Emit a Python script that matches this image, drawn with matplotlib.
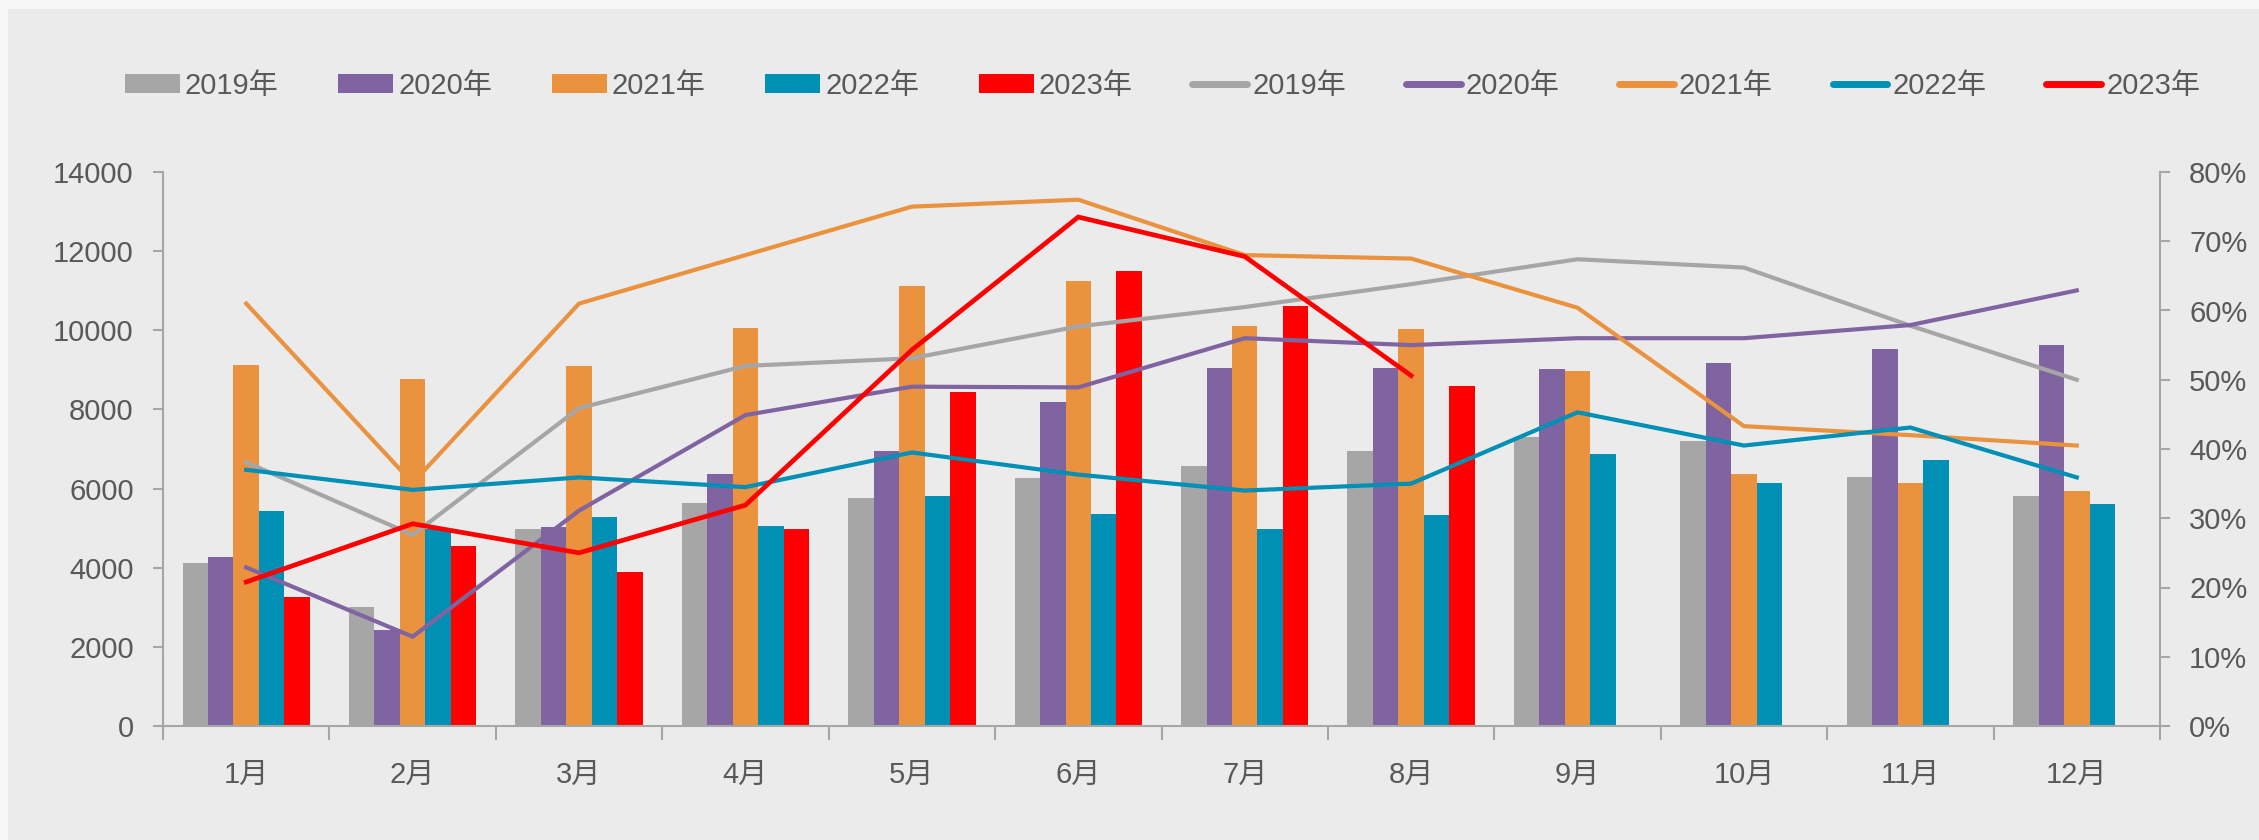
import numpy as np
import matplotlib
matplotlib.use('Agg')
import matplotlib.pyplot as plt
from matplotlib.patches import Rectangle
from matplotlib.ticker import FuncFormatter

plt.rcParams['font.family'] = ['Liberation Sans', 'Noto Sans CJK SC']

# data
months = ['1月', '2月', '3月', '4月', '5月', '6月', '7月', '8月', '9月', '10月', '11月', '12月']
years = ['2019年', '2020年', '2021年', '2022年', '2023年']

vol_2019 = [4130, 3000, 4980, 5630, 5770, 6260, 6570, 6940, 7310, 7190, 6290, 5815]
vol_2020 = [4280, 2420, 5040, 6380, 6960, 8190, 9040, 9050, 9010, 9170, 9520, 9630]
vol_2021 = [9120, 8780, 9100, 10060, 11130, 11250, 10110, 10040, 8970, 6360, 6140, 5950]
vol_2022 = [5440, 4980, 5270, 5060, 5810, 5350, 4980, 5320, 6880, 6140, 6720, 5620]
vol_2023 = [3260, 4560, 3890, 4980, 8430, 11490, 10610, 8580]

pct_2019 = [38.1, 27.6, 45.9, 52.0, 53.1, 57.7, 60.5, 63.8, 67.4, 66.2, 57.8, 50.0]
pct_2020 = [22.9, 12.9, 31.1, 44.9, 49.0, 48.9, 56.0, 55.0, 56.0, 56.0, 57.9, 62.9]
pct_2021 = [61.0, 35.1, 61.0, 68.0, 75.0, 76.0, 68.0, 67.5, 60.4, 43.3, 42.0, 40.5]
pct_2022 = [37.0, 34.1, 35.9, 34.5, 39.5, 36.3, 34.0, 35.0, 45.3, 40.5, 43.1, 35.9]
pct_2023 = [20.8, 29.2, 25.0, 31.9, 54.3, 73.5, 67.8, 50.6]

colors = ['#A6A6A6', '#8064A2', '#EA923E', '#008FB5', '#FF0000']
text_c = '#595959'
axis_c = '#A6A6A6'

vols = [vol_2019, vol_2020, vol_2021, vol_2022, vol_2023]
pcts = [pct_2019, pct_2020, pct_2021, pct_2022, pct_2023]

fig = plt.figure(figsize=(22.59, 8.4), dpi=100, facecolor='#F7F7F7')
fig.patches.append(Rectangle((8 / 2259, 0), 1, 1 - 9 / 840, transform=fig.transFigure,
                             facecolor='#EBEBEB', edgecolor='none', zorder=-1))

ax1 = fig.add_axes([163 / 2259, 1 - 726 / 840, (2160 - 163) / 2259, (726 - 172) / 840])
ax1.set_facecolor('none')
ax2 = ax1.twinx()

x = np.arange(len(months))
w = 0.153
bar_handles = []
for i, (vals, c, lab) in enumerate(zip(vols, colors, years)):
    xi = np.arange(len(vals))
    b = ax1.bar(xi + (i - 2) * w, vals, width=w, color=c, label=lab, zorder=2)
    bar_handles.append(b)

line_handles = []
for i, (vals, c, lab) in enumerate(zip(pcts, colors, years)):
    xi = np.arange(len(vals))
    lw = 3.4 if i == 4 else 3.0
    l, = ax2.plot(xi, vals, color=c, lw=lw, label=lab, solid_joinstyle='miter', zorder=3)
    line_handles.append(l)

ax1.set_xlim(-0.5, 11.5)
ax1.set_ylim(0, 14000)
ax1.set_yticks(np.arange(0, 14001, 2000))
ax2.set_ylim(0, 80)
ax2.set_yticks(np.arange(0, 81, 10))
ax2.yaxis.set_major_formatter(FuncFormatter(lambda v, p: f'{int(v)}%'))

fs = 21
ax1.set_xticks(x)
ax1.set_xticklabels(months)
ax1.set_xticks(np.arange(-0.5, 12, 1), minor=True)
ax1.tick_params(axis='x', which='major', length=0, pad=25, labelsize=fs, labelcolor=text_c)
ax1.tick_params(axis='x', which='minor', length=10, width=1.5, color=axis_c, direction='out')
ax1.tick_params(axis='y', length=7, width=1.5, color=axis_c, pad=14, labelsize=fs, labelcolor=text_c)
ax2.tick_params(axis='y', length=7, width=1.5, color=axis_c, pad=14, labelsize=fs, labelcolor=text_c)

for ax in (ax1, ax2):
    for s in ax.spines.values():
        s.set_visible(False)
ax1.spines['left'].set_visible(True)
ax1.spines['bottom'].set_visible(True)
ax2.spines['right'].set_visible(True)
for s in (ax1.spines['left'], ax1.spines['bottom'], ax2.spines['right']):
    s.set_color(axis_c)
    s.set_linewidth(1.5)

leg = fig.legend(bar_handles + line_handles, years + years, loc='center left',
                 bbox_to_anchor=(125 / 2259, 1 - 86 / 840), ncol=10, frameon=False,
                 fontsize=fs, labelcolor=text_c, handlelength=1.88, handleheight=0.62,
                 handletextpad=0.17, columnspacing=2.05, borderpad=0, borderaxespad=0)
for lh in leg.get_lines():
    lh.set_linewidth(5)
    lh.set_solid_capstyle('round')

fig.savefig('out.png', dpi=100, facecolor=fig.get_facecolor())
